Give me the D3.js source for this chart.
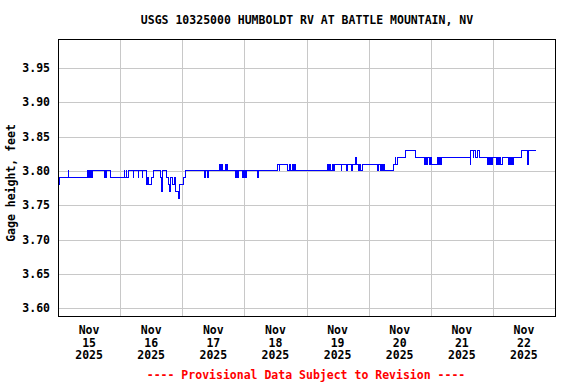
<!DOCTYPE html>
<html>
<head>
<meta charset="utf-8">
<script src="https://cdn.jsdelivr.net/npm/d3@7"></script>
<style>
  body { margin: 0; background: #fff; }
  svg text { font-family: "DejaVu Sans Mono", "Liberation Mono", monospace; font-weight: bold; }
</style>
</head>
<body>
<svg width="576" height="384"></svg>
<script>
// gage height, step changes: hours after Nov 15 00:00 and the value from then on
const stepHours = [
  0, 0.4, 3.9, 4.2, 11.4, 11.6, 12.0, 12.2, 12.6, 12.8, 13.4, 17.8, 18.0, 18.2, 18.6, 20.1,
  25.5, 25.8, 26.3, 26.5, 27.1, 29.0, 29.2, 31.0, 31.2, 32.5, 32.7, 34.1, 34.6, 34.8, 36.0, 36.8,
  39.5, 39.9, 40.3, 41.8, 42.6, 43.2, 43.5, 44.1, 44.9, 45.3, 46.6, 47.0, 48.5, 49.2,
  56.5, 57.1, 57.6, 58.1, 62.4, 62.9, 63.1, 63.5, 64.6, 65.0, 65.2, 65.6, 68.5, 68.9, 69.5, 69.9,
  71.1, 71.5, 71.9, 72.4, 72.6, 73.0, 77.0, 77.4, 84.8, 85.4, 85.7, 88.6, 89.4, 90.0, 90.4, 90.8,
  91.4, 91.7, 104.2, 104.5, 104.9, 105.3, 105.9, 106.5, 106.8, 109.4, 109.7, 111.3, 111.7,
  113.4, 113.8, 115.0, 115.4, 116.1, 116.5, 116.9, 117.5, 123.6, 124.0, 124.5, 124.8, 125.4,
  125.8, 126.2, 129.8, 130.3, 130.5, 131.1, 134.4, 138.3, 141.7, 142.1, 142.5, 142.8, 143.4,
  143.8, 144.4, 146.7, 147.1, 147.5, 147.9, 148.3, 159.2, 159.5, 160.4, 160.6, 161.4, 162.1,
  162.9, 165.9, 166.2, 166.6, 167.2, 167.5, 167.9, 169.5, 169.9, 170.3, 170.7, 171.1, 171.7,
  173.9, 174.4, 174.7, 175.3, 175.7, 176.1, 179.2, 181.5, 181.9, 184.6
];
const stepValues = [
  3.78, 3.79, 3.80, 3.79, 3.80, 3.79, 3.80, 3.79, 3.80, 3.79, 3.80, 3.79, 3.80, 3.79, 3.80, 3.79,
  3.80, 3.79, 3.80, 3.79, 3.80, 3.79, 3.80, 3.79, 3.80, 3.79, 3.80, 3.78, 3.79, 3.78, 3.79, 3.80,
  3.79, 3.77, 3.80, 3.79, 3.78, 3.77, 3.79, 3.78, 3.79, 3.77, 3.76, 3.78, 3.79, 3.80,
  3.79, 3.80, 3.79, 3.80, 3.81, 3.80, 3.81, 3.80, 3.81, 3.80, 3.81, 3.80, 3.79, 3.80, 3.79, 3.80,
  3.79, 3.80, 3.79, 3.80, 3.79, 3.80, 3.79, 3.80, 3.81, 3.80, 3.81, 3.80, 3.81, 3.80, 3.81, 3.80,
  3.81, 3.80, 3.81, 3.80, 3.81, 3.80, 3.81, 3.80, 3.81, 3.80, 3.81, 3.80, 3.81,
  3.80, 3.81, 3.82, 3.81, 3.80, 3.81, 3.80, 3.81, 3.80, 3.81, 3.80, 3.81, 3.80,
  3.81, 3.80, 3.81, 3.82, 3.81, 3.82, 3.83, 3.82, 3.81, 3.82, 3.81, 3.82, 3.81,
  3.82, 3.81, 3.82, 3.81, 3.82, 3.81, 3.82, 3.81, 3.83, 3.82, 3.83, 3.82, 3.83,
  3.82, 3.81, 3.82, 3.81, 3.82, 3.81, 3.82, 3.81, 3.82, 3.81, 3.82, 3.81, 3.82,
  3.81, 3.82, 3.81, 3.82, 3.81, 3.82, 3.83, 3.81, 3.83, 3.83
];
const yTicks = [3.60, 3.65, 3.70, 3.75, 3.80, 3.85, 3.90, 3.95];
const dayLabels = ["15", "16", "17", "18", "19", "20", "21", "22"];

const titleText = "USGS 10325000 HUMBOLDT RV AT BATTLE MOUNTAIN, NV";
const yLabel = "Gage height, feet";
const footText = "---- Provisional Data Subject to Revision ----";

const svg = d3.select("svg");
const start = new Date(Date.UTC(2025, 10, 15));
const hourMs = 3600 * 1000;

const plotL = 58, plotR = 555, plotT = 39, plotB = 316;

const x = d3.scaleUtc()
  .domain([start, new Date(start.getTime() + 8 * 24 * hourMs)])
  .range([plotL, plotR]);
const y = d3.scaleLinear().domain([3.589, 3.992]).range([plotB, plotT]);

const data = stepHours.map((h, i) => ({ t: new Date(start.getTime() + h * hourMs), v: stepValues[i] }));

// grid
const days = d3.utcDay.range(start, x.domain()[1]).slice(1);
svg.append("g").selectAll("line").data(days).enter().append("line")
  .attr("x1", (d) => Math.round(x(d)) + 0.5).attr("x2", (d) => Math.round(x(d)) + 0.5)
  .attr("y1", plotT).attr("y2", plotB)
  .attr("stroke", "#c8c8c8").attr("stroke-width", 1);
svg.append("g").selectAll("line").data(yTicks).enter().append("line")
  .attr("x1", plotL).attr("x2", plotR)
  .attr("y1", (d) => Math.round(y(d)) + 0.5).attr("y2", (d) => Math.round(y(d)) + 0.5)
  .attr("stroke", "#c8c8c8").attr("stroke-width", 1);

// data line
const line = d3.line().x((d) => x(d.t)).y((d) => y(d.v)).curve(d3.curveStepAfter);
svg.append("path").datum(data)
  .attr("d", line)
  .attr("fill", "none")
  .attr("stroke", "#0000ff")
  .attr("stroke-width", 1)
  .attr("shape-rendering", "crispEdges");

// frame
svg.append("rect")
  .attr("x", plotL + 0.5).attr("y", plotT + 0.5)
  .attr("width", plotR - plotL).attr("height", plotB - plotT)
  .attr("fill", "none").attr("stroke", "#000").attr("stroke-width", 1);

// y tick labels
svg.append("g").selectAll("text").data(yTicks).enter().append("text")
  .attr("x", 50).attr("y", (d) => y(d) + 4)
  .attr("text-anchor", "end").attr("font-size", "11.5px")
  .text((d) => d3.format(".2f")(d));

// x tick labels (at noon)
const xl = svg.append("g").selectAll("g").data(dayLabels).enter().append("g")
  .attr("transform", (d, i) => `translate(${x(new Date(start.getTime() + (i * 24 + 12) * hourMs))},0)`);
xl.append("text").attr("y", 334).attr("text-anchor", "middle").attr("font-size", "11.5px").text("Nov");
xl.append("text").attr("y", 346.5).attr("text-anchor", "middle").attr("font-size", "11.5px").text((d) => d);
xl.append("text").attr("y", 359).attr("text-anchor", "middle").attr("font-size", "11.5px").text("2025");

// title, axis label, footer
svg.append("text").attr("x", 307).attr("y", 24).attr("text-anchor", "middle")
  .attr("font-size", "11.5px").text(titleText);
svg.append("text").attr("transform", "translate(15,183) rotate(-90)")
  .attr("text-anchor", "middle").attr("font-size", "11.5px").text(yLabel);
svg.append("text").attr("x", 306).attr("y", 379).attr("text-anchor", "middle")
  .attr("font-size", "11.5px").attr("fill", "#ff0000").text(footText);
</script>
</body>
</html>
